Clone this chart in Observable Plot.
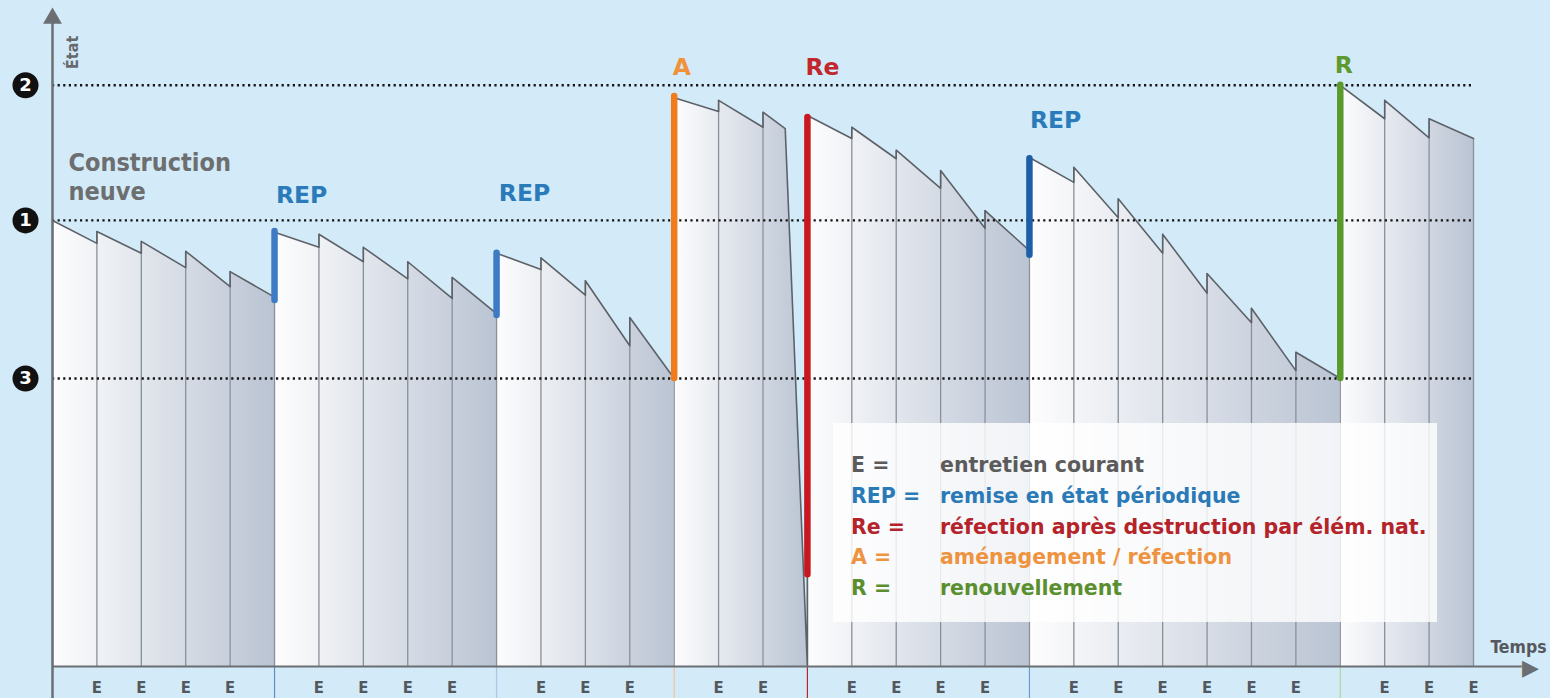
<!DOCTYPE html>
<html>
<head>
<meta charset="utf-8">
<script src="https://cdn.jsdelivr.net/npm/d3@7"></script>
<script src="https://cdn.jsdelivr.net/npm/@observablehq/plot@0.6"></script>
<style>
  html, body { margin: 0; padding: 0; background: #d3ebf8; }
  #wrap { position: relative; width: 1550px; height: 698px; overflow: hidden; background: #d3ebf8; }
  #legend { position: absolute; left: 833px; top: 423px; width: 604px; height: 199px;
            background: rgba(255,255,255,0.80);
            font-family: 'DejaVu Sans', sans-serif;
            font-weight: bold; font-size: 20.5px; }
  #legend .row { position: absolute; left: 18px; height: 26px; line-height: 26px; white-space: nowrap; }
  #legend .key { position: absolute; left: 0; }
  #legend .lab { position: absolute; left: 89px; }
</style>
</head>
<body>
<div id="wrap"><div id="chart"></div><div id="legend"></div></div>
<script>
// ---------------- DATA ----------------
// Reference levels of the state ("État") axis
const levelLabels = ["2", "1", "3"];
const levelValues = [88.6, 68.0, 43.9];

// Start (in time units) of each maintenance cycle
const groupStarts = [0, 5, 10, 14, 17, 22, 29];

// Each column = one period of "entretien courant": [state at start, state at end]
const g1 = [[68.0, 64.5], [66.3, 63.0], [64.8, 60.8], [63.3, 57.9], [60.2, 56.3]];
const g2 = [[66.2, 63.9], [65.9, 61.7], [63.9, 59.1], [61.7, 56.1], [59.3, 53.8]];
const g3 = [[63.0, 60.5], [62.3, 56.6], [58.8, 48.9], [53.2, 43.9]];
const g4 = [[86.7, 84.6], [86.3, 82.2], [84.5, 82.0]];
const g4Widths = [1, 1, 0.5];
const g5 = [[84.0, 80.5], [82.2, 77.4], [78.7, 72.9], [75.6, 66.8], [69.5, 63.4]];
const g6 = [[77.6, 73.8], [76.1, 68.4], [71.3, 63.0], [65.9, 56.9], [59.9, 52.4], [54.6, 45.1], [47.9, 43.9]];
const g7 = [[88.6, 83.5], [86.3, 80.6], [83.5, 80.5]];
// collapse (destruction by natural elements)
const collapseT = 17;
const collapseV = 0;

// Interventions
const interCodes = ["REP", "REP", "A", "Re", "REP", "R"];
const interT     = [5, 10, 14, 17, 22, 29];
const interFrom  = [55.8, 53.5, 43.9, 14.0, 62.7, 43.9];
const interTo    = [66.3, 63.0, 86.9, 83.7, 77.4, 88.6];

// Intervention labels (time, state)
const labelT = [5.61, 10.63, 14.17, 17.34, 22.59, 29.08];
const labelV = [71.8, 72.1, 91.3, 91.3, 83.2, 91.6];

const startLabelLines = ["Construction", "neuve"];
const startLabelV = [76.7, 72.3];

const legendKeys = ["E =", "REP =", "Re =", "A =", "R ="];
const legendLabels = ["entretien courant", "remise en état périodique",
  "réfection après destruction par élém. nat.", "aménagement / réfection", "renouvellement"];

const axisTitleY = "État";
const axisTitleX = "Temps";
const tickLabel = "E";

// ---------------- STYLES ----------------
const FONT = "'DejaVu Sans Condensed', 'DejaVu Sans', sans-serif";
const FONT_WIDE = "'DejaVu Sans', sans-serif";
const codeColors = {REP: "#2b7bba", A: "#f0923a", Re: "#c1272d", R: "#5c9a30", E: "#5b5b5b"};
const barColors = ["#3d7cc4", "#3d7cc4", "#f07c1b", "#c8171e", "#1e5ea6", "#5a9a2b"];
const tickColors = ["#5b8fc7", "#a8c8e4", "#f3c29a", "#b8262d", "#6e9bcc", "#b3d49a"];
const legendColors = ["#5b5b5b", "#2a7ab8", "#b5232a", "#ee9340", "#5a8f2f"];
const shade = d3.interpolateRgb("#ffffff", "#a7b3c7");

// ---------------- BUILD TABLES ----------------
const groups = [g1, g2, g3, g4, g5, g6, g7];
const columns = [];
groups.forEach((g, gi) => {
  let t = groupStarts[gi];
  g.forEach(([a, b], k) => {
    const w = gi === 3 ? g4Widths[k] : 1;
    columns.push({gi, k, n: g.length, t0: t, t1: t + w, a, b});
    t += w;
  });
});

const topLine = [];
columns.forEach((c) => {
  topLine.push({t: c.t0, v: c.a}, {t: c.t1, v: c.b});
  if (c.gi === 3 && c.k === c.n - 1) topLine.push({t: collapseT, v: collapseV});
});

const columnAreas = columns.map((c) => {
  const pts = [{t: c.t0, v: c.a}, {t: c.t1, v: c.b}];
  if (c.gi === 3 && c.k === c.n - 1) pts.push({t: collapseT, v: collapseV});
  return pts;
});

const boundaries = columns.map(c => ({t: c.t0, v: c.a}));
const lastCol = columns[columns.length - 1];
boundaries.push({t: lastCol.t1, v: lastCol.b});

const eTicks = columns.filter(c => c.k > 0).map(c => c.t0).concat([lastCol.t1]);

const interventions = interCodes.map((code, i) => ({code, t: interT[i], from: interFrom[i], to: interTo[i], color: barColors[i]}));
const labels = interCodes.map((code, i) => ({code, t: labelT[i], v: labelV[i], color: codeColors[code]}));
const levels = levelLabels.map((label, i) => ({label, v: levelValues[i]}));
const groupTicks = groupStarts.slice(1).map((t, i) => ({t, color: tickColors[i]}));

// ---------------- PLOT ----------------
const yBottom = -4.9, yTop = 98.8, xEnd = 33.1;

const marks = [];
columnAreas.forEach((pts, i) => {
  marks.push(Plot.areaY(pts, {x: "t", y: "v", fill: `url(#grad${i})`, curve: "linear"}));
});
marks.push(
  Plot.ruleX(boundaries, {x: "t", y1: 0, y2: "v", stroke: "#8a9099", strokeWidth: 1.3}),
  Plot.line(topLine, {x: "t", y: "v", stroke: "#5d6168", strokeWidth: 1.6, curve: "linear"}),
  Plot.ruleY(levels, {y: "v", x1: 0, x2: 32, stroke: "#141414", strokeWidth: 2.4, strokeDasharray: "2.2,3.4"}),
  Plot.ruleX(groupTicks, {x: "t", y1: yBottom, y2: 0, stroke: "color", strokeWidth: 1.2}),
  Plot.ruleY([0], {x1: 0, x2: xEnd, stroke: "#6b6e73", strokeWidth: 2.2}),
  Plot.text(["▶"], {x: xEnd, y: 0, text: d => d, dx: 8, dy: 1, fill: "#6b6e73", fontSize: 22, fontFamily: "DejaVu Sans"}),
  Plot.ruleX([0], {y1: yBottom, y2: yTop, stroke: "#6b6e73", strokeWidth: 2.5}),
  Plot.dot([0], {x: 0, y: yTop, symbol: "triangle", r: 7, fill: "#6b6e73", stroke: "none"}),
  Plot.ruleX(interventions, {x: "t", y1: "from", y2: "to", stroke: "color", strokeWidth: 6.5, strokeLinecap: "round"}),
  Plot.text(labels, {x: "t", y: "v", text: "code", fill: "color", fontSize: 23.5, fontWeight: "bold", fontFamily: FONT_WIDE}),
  Plot.text(startLabelLines, {x: 0.36, y: (d, i) => startLabelV[i], text: d => d, textAnchor: "start", fill: "#6d6e70", fontSize: 25, fontWeight: "bold", fontFamily: FONT}),
  Plot.dot(levels, {x: 0, y: "v", dx: -27, r: 13, fill: "#111", stroke: "none"}),
  Plot.text(levels, {x: 0, y: "v", dx: -27, text: "label", fill: "white", fontSize: 18, fontWeight: "bold", fontFamily: "DejaVu Sans"}),
  Plot.text(eTicks, {x: d => d, y: -3.2, text: () => tickLabel, fill: "#525860", fontSize: 16.5, fontWeight: "bold", fontFamily: FONT}),
  Plot.text([axisTitleY], {x: 0, y: yTop, dx: 20, dy: 34, text: d => d, rotate: -90, fill: "#66696e", fontSize: 16, fontWeight: "bold", fontFamily: FONT}),
  Plot.text([axisTitleX], {x: 32, y: 0, dx: 45, dy: -19, text: d => d, fill: "#55595f", fontSize: 17.5, fontWeight: "bold", fontFamily: FONT})
);

const plot = Plot.plot({
  width: 1550,
  height: 698,
  marginLeft: 52,
  marginRight: 77,
  marginTop: 10,
  marginBottom: 32,
  x: {domain: [0, 32], axis: null},
  y: {domain: [0, 100], axis: null},
  color: {type: "identity"},
  style: {background: "#d3ebf8", fontFamily: FONT, overflow: "visible"},
  marks
});

// gradients for the column fills (left lighter, right darker, darker along each cycle)
const svg = d3.select(plot);
const defs = svg.insert("defs", ":first-child");
columns.forEach((c, i) => {
  const f0 = 0.02 + 0.76 * c.k / c.n;
  const f1 = 0.02 + 0.76 * (c.k + 1) / c.n;
  const lg = defs.append("linearGradient").attr("id", "grad" + i)
    .attr("x1", "0").attr("x2", "1").attr("y1", "0").attr("y2", "0");
  lg.append("stop").attr("offset", "0").attr("stop-color", shade(f0));
  lg.append("stop").attr("offset", "1").attr("stop-color", shade(f1));
});

document.getElementById("chart").appendChild(plot);

// legend
const legend = d3.select("#legend");
legendKeys.forEach((k, i) => {
  const row = legend.append("div").attr("class", "row")
    .style("top", (29 + i * 30.8) + "px").style("color", legendColors[i]);
  row.append("span").attr("class", "key").text(k);
  row.append("span").attr("class", "lab").text(legendLabels[i]);
});
</script>
</body>
</html>
